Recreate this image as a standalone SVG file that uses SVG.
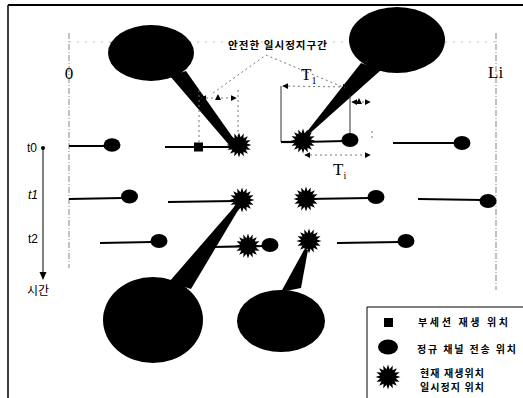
<svg xmlns="http://www.w3.org/2000/svg" xmlns:xlink="http://www.w3.org/1999/xlink" width="523" height="398" viewBox="0 0 523 398">
<style>
.ko{font-family:"Noto Sans CJK KR","Noto Sans",sans-serif;font-weight:bold;fill:#000}
.kon{font-family:"Noto Sans CJK KR","Noto Sans",sans-serif;font-weight:normal;fill:#000}
.sans{font-family:"Liberation Sans",Arial,sans-serif;fill:#000}
.serif{font-family:"Liberation Serif","Times New Roman",serif;fill:#000}
.seg{stroke:#000;stroke-width:2.2;fill:none}
.guide{stroke:#999;stroke-width:1.2;stroke-dasharray:6 2 1 2;fill:none}
.dot{stroke:#bbb;stroke-width:1;stroke-dasharray:2 6;fill:none}
.thin{stroke:#333;stroke-width:1;fill:none}
.dim{stroke:#777;stroke-width:1;stroke-dasharray:2 3;fill:none}
.blk{fill:#000}
</style>
<defs>
<polygon id="star" points="12.5,0 7.85,1.56 11.55,4.79 6.65,4.45 8.84,8.84 4.45,6.65 4.79,11.55 1.56,7.85 0,12.5 -1.56,7.85 -4.79,11.55 -4.45,6.65 -8.84,8.84 -6.65,4.45 -11.55,4.79 -7.85,1.56 -12.5,0 -7.85,-1.56 -11.55,-4.79 -6.65,-4.45 -8.84,-8.84 -4.45,-6.65 -4.79,-11.55 -1.56,-7.85 0,-12.5 1.56,-7.85 4.79,-11.55 4.45,-6.65 8.84,-8.84 6.65,-4.45 11.55,-4.79 7.85,-1.56" fill="#000"/>
<marker id="ah" viewBox="0 0 8 8" refX="7" refY="4" markerWidth="6" markerHeight="6" orient="auto-start-reverse"><path d="M0,0 L8,4 L0,8 z" fill="#000"/></marker>
</defs>
<rect x="0" y="0" width="523" height="398" fill="#fff"/>

<g id="frame">
<line x1="8" y1="5" x2="523" y2="5" stroke="#000" stroke-width="2"/>
<line x1="8" y1="5" x2="8" y2="398" stroke="#000" stroke-width="1.5"/>
</g>

<g id="guides">
<line class="dot" x1="69" y1="42" x2="496" y2="42"/>
<line class="guide" x1="69" y1="33" x2="69" y2="268"/>
<line class="guide" x1="496" y1="33" x2="496" y2="290"/>
<text class="serif" x="69" y="79" font-size="17" text-anchor="middle">0</text>
<text class="serif" x="488" y="78" font-size="17">Li</text>
</g>

<g id="time-axis">
<circle cx="43" cy="148" r="2" fill="#000"/>
<line x1="43" y1="148" x2="43" y2="272" stroke="#000" stroke-width="1"/>
<path d="M39.5,272 L46.5,272 L43,280 z" fill="#000"/>
<text class="sans" x="27" y="152" font-size="12">t0</text>
<text class="sans" x="28" y="199" font-size="12" font-style="italic">t1</text>
<text class="sans" x="28" y="243" font-size="12">t2</text>
<text class="kon" x="27" y="295" font-size="12">시간</text>
</g>

<g id="bubble-top-left">
<ellipse cx="151" cy="53" rx="43" ry="28" class="blk"/>
<polygon points="170,76 186,71 236,142 230,146" class="blk"/>
</g>
<g id="bubble-top-right">
<ellipse cx="397" cy="40" rx="48" ry="33" class="blk"/>
<polygon points="361,63 381,70 308,135 302,138" class="blk"/>
</g>
<g id="bubble-bottom-left">
<ellipse cx="153" cy="320" rx="50" ry="43" class="blk"/>
<polygon points="169,282 191,289 240,207 235,206" class="blk"/>
</g>
<g id="bubble-bottom-right">
<ellipse cx="281" cy="321" rx="44" ry="31" class="blk"/>
<polygon points="281,292 301,288 308,250 304,250" class="blk"/>
</g>

<g id="connectors">
<line class="seg" x1="69" y1="146" x2="106" y2="146"/>
<line class="seg" x1="165" y1="147" x2="232" y2="147"/>
<line class="thin" x1="281" y1="86" x2="281" y2="142"/>
<line class="seg" x1="281" y1="142" x2="300" y2="142"/>
<line class="seg" x1="303" y1="142" x2="345" y2="141"/>
<line class="seg" x1="393" y1="143" x2="455" y2="143"/>
<line class="seg" x1="69" y1="199" x2="122" y2="198"/>
<line class="seg" x1="168" y1="202" x2="235" y2="201"/>
<line class="seg" x1="306" y1="199" x2="370" y2="198"/>
<line class="seg" x1="418" y1="199" x2="482" y2="200"/>
<line class="seg" x1="100" y1="243" x2="152" y2="242"/>
<line class="seg" x1="213" y1="247" x2="266" y2="246"/>
<line class="seg" x1="337" y1="243" x2="400" y2="242"/>
<line class="dim" x1="199" y1="90" x2="199" y2="143"/>
<line class="dim" x1="238" y1="90" x2="238" y2="136"/>
<line class="thin" x1="350" y1="95" x2="350" y2="134" stroke="#666"/>
<line class="dim" x1="201" y1="98" x2="236" y2="98" marker-start="url(#ah)" marker-end="url(#ah)"/>
<path d="M215,100 L221,100 L218,94 z" fill="#000"/>
<line class="dim" x1="352" y1="102" x2="370" y2="102" marker-start="url(#ah)" marker-end="url(#ah)"/>
<path d="M356,104 L362,104 L359,98 z" fill="#000"/>
<line class="dim" x1="283" y1="86" x2="348" y2="87" marker-start="url(#ah)" marker-end="url(#ah)"/>
<line class="dim" x1="305" y1="155" x2="370" y2="155" marker-start="url(#ah)" marker-end="url(#ah)"/>
<line class="dim" x1="372" y1="131" x2="372" y2="138"/>
<polyline class="dim" points="213,93 266,55 345,88"/>
</g>

<g id="t0-markers">
<ellipse cx="112" cy="145" rx="8.5" ry="6.8" class="blk"/>
<rect x="194" y="142.5" width="9" height="9" class="blk"/>
<use xlink:href="#star" x="239" y="145"/>
<use xlink:href="#star" x="303" y="141"/>
<ellipse cx="350" cy="140" rx="8.5" ry="7" class="blk"/>
<ellipse cx="462" cy="143" rx="8.5" ry="7" class="blk"/>
</g>
<g id="t1-markers">
<ellipse cx="129.5" cy="196.5" rx="8.5" ry="7" class="blk"/>
<use xlink:href="#star" x="242" y="200"/>
<use xlink:href="#star" x="306" y="199"/>
<ellipse cx="376" cy="197" rx="8.5" ry="7" class="blk"/>
<ellipse cx="488" cy="201" rx="8.5" ry="7" class="blk"/>
</g>
<g id="t2-markers">
<ellipse cx="159" cy="241" rx="8.5" ry="7" class="blk"/>
<use xlink:href="#star" x="248" y="246"/>
<ellipse cx="270" cy="245" rx="8.5" ry="7" class="blk"/>
<use xlink:href="#star" x="309" y="241"/>
<ellipse cx="406" cy="241" rx="8.5" ry="7" class="blk"/>
</g>

<g id="labels">
<text class="ko" x="228" y="49" font-size="10.5" textLength="99" lengthAdjust="spacing">안전한 일시정지구간</text>
<text class="serif" x="301" y="80" font-size="17">T<tspan font-size="10" dy="4">1</tspan></text>
<text class="serif" x="333" y="175" font-size="17">T<tspan font-size="10" dy="4">i</tspan></text>
</g>

<g id="legend">
<line x1="367" y1="307" x2="523" y2="307" stroke="#000" stroke-width="1"/>
<line x1="367" y1="307" x2="367" y2="398" stroke="#000" stroke-width="1"/>
<rect x="384" y="318" width="9" height="9" class="blk"/>
<text class="ko" x="418" y="326" font-size="10" textLength="90" lengthAdjust="spacing">부세션 재생 위치</text>
<ellipse cx="388" cy="347" rx="10" ry="7.5" class="blk"/>
<text class="ko" x="417" y="353" font-size="10" textLength="99" lengthAdjust="spacing">정규 채널 전송 위치</text>
<use xlink:href="#star" x="388" y="377"/>
<text class="ko" x="420" y="377" font-size="10" textLength="64" lengthAdjust="spacing">현재 재생위치</text>
<text class="ko" x="420" y="391" font-size="10" textLength="64" lengthAdjust="spacing">일시정지 위치</text>
</g>
</svg>
